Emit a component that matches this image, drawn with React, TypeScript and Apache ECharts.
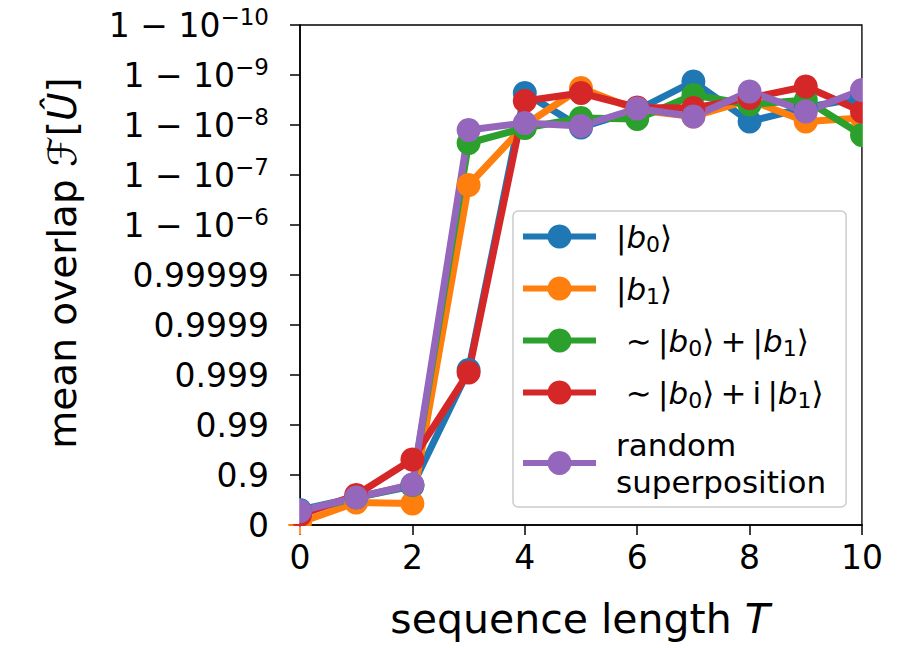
import React, { useEffect, useRef } from "react";
import * as echarts from "echarts";

const T = [0, 1, 2, 3, 4, 5, 6, 7, 8, 9, 10];
// values on the transformed axis: -log10(1 - F)
const b0 = [0.3, 0.55, 0.78, 3.1, 8.64, 7.95, 8.3, 8.87, 8.07, 8.35, 8.55];
const b1 = [0.05, 0.45, 0.43, 6.8, 8.0, 8.74, 8.3, 8.17, 8.5, 8.07, 8.14];
const plus = [0.25, 0.55, 0.8, 7.64, 7.94, 8.14, 8.12, 8.6, 8.41, 8.5, 7.8];
const plusI = [0.2, 0.6, 1.31, 3.05, 8.48, 8.64, 8.35, 8.34, 8.54, 8.77, 8.27];
const rnd = [0.28, 0.55, 0.81, 7.9, 8.04, 7.98, 8.33, 8.17, 8.67, 8.27, 8.7];

const seriesNames = ["b0", "b1", "plus", "plusI", "random"];
const legendLabels = [
  "|{i|b}{sub|0}⟩",
  "|{i|b}{sub|1}⟩",
  " ∼\u2009|{i|b}{sub|0}⟩\u2009+\u2009|{i|b}{sub|1}⟩",
  " ∼\u2009|{i|b}{sub|0}⟩\u2009+\u2009i\u2009|{i|b}{sub|1}⟩",
  "random\nsuperposition",
];
const colors = ["#1f77b4", "#ff7f0e", "#2ca02c", "#d62728", "#9467bd"];
const yTickLabels = [
  "0",
  "0.9",
  "0.99",
  "0.999",
  "0.9999",
  "0.99999",
  "1 − 10{sup|−6}",
  "1 − 10{sup|−7}",
  "1 − 10{sup|−8}",
  "1 − 10{sup|−9}",
  "1 − 10{sup|−10}",
];
const xTicks = [0, 2, 4, 6, 8, 10];

const FONT = "DejaVu Sans";

export default function App() {
  const ref = useRef<HTMLDivElement>(null);
  useEffect(() => {
    if (!ref.current) return;
    const chart = echarts.init(ref.current, null, { renderer: "svg" });
    const allData = [b0, b1, plus, plusI, rnd];
    const series = allData.map((d, k) => ({
      name: seriesNames[k],
      type: "line",
      data: T.map((t, i) => [t, d[i]]),
      symbol: "circle",
      symbolSize: 24,
      showSymbol: true,
      lineStyle: { width: 7, color: colors[k] },
      itemStyle: { color: colors[k] },
      color: colors[k],
      emphasis: { disabled: true },
      clip: true,
    }));
    chart.setOption({
      animation: false,
      backgroundColor: "#ffffff",
      grid: {
        left: 300,
        right: 35,
        top: 25,
        bottom: 123,
        show: true,
        borderColor: "#000",
        borderWidth: 1.5,
        backgroundColor: "transparent",
      },
      xAxis: {
        type: "value",
        min: 0,
        max: 10,
        interval: 2,
        splitLine: { show: false },
        axisLine: { show: true, lineStyle: { color: "#000", width: 1.5 } },
        axisTick: { show: true, length: 10, lineStyle: { color: "#000", width: 1.5 } },
        axisLabel: {
          color: "#000",
          fontSize: 33,
          fontFamily: FONT,
          margin: 16,
          formatter: (v: number) => (xTicks.includes(v) ? String(v) : ""),
        },
      },
      yAxis: {
        type: "value",
        min: 0,
        max: 10,
        interval: 1,
        splitLine: { show: false },
        axisLine: { show: true, lineStyle: { color: "#000", width: 1.5 } },
        axisTick: { show: true, length: 10, lineStyle: { color: "#000", width: 1.5 } },
        axisLabel: {
          color: "#000",
          fontSize: 33,
          fontFamily: FONT,
          lineHeight: 40,
          margin: 31,
          formatter: (v: number) => yTickLabels[Math.round(v)] ?? "",
          rich: {
            sup: {
              fontSize: 23,
              fontFamily: FONT,
              color: "#000",
              lineHeight: 22,
              verticalAlign: "top",
            },
          },
        },
      },
      legend: {
        orient: "vertical",
        left: 513,
        top: 211,
        padding: [7, 20, 7, 7],
        itemGap: 15,
        itemWidth: 73,
        itemHeight: 30,
        backgroundColor: "#ffffff",
        borderColor: "#cccccc",
        borderWidth: 1.5,
        borderRadius: 5,
        data: seriesNames,
        lineStyle: { width: 6 },
        formatter: (name: string) => legendLabels[seriesNames.indexOf(name)],
        textStyle: {
          color: "#000",
          fontSize: 31,
          fontFamily: FONT,
          lineHeight: 37,
          padding: [0, 0, 0, 15],
          rich: {
            i: { fontStyle: "italic", fontSize: 31, fontFamily: FONT, color: "#000", lineHeight: 37 },
            sub: { fontSize: 22, fontFamily: FONT, color: "#000", lineHeight: 18, verticalAlign: "bottom" },
          },
        },
      },
      graphic: [
        // clip markers that overhang the plot area
        { type: "rect", z: 100, shape: { x: 862.8, y: 0, width: 40, height: 524 }, style: { fill: "#fff" } },
        { type: "rect", z: 100, shape: { x: 283, y: 480, width: 16.2, height: 44 }, style: { fill: "#fff" } },
        { type: "rect", z: 100, shape: { x: 283, y: 526, width: 16.2, height: 12 }, style: { fill: "#fff" } },
        { type: "rect", z: 100, shape: { x: 300.8, y: 526, width: 30, height: 8.5 }, style: { fill: "#fff" } },
        {
          type: "text",
          z: 100,
          x: 580,
          y: 619,
          style: {
            text: "sequence length {i|T}",
            fontSize: 41,
            fontFamily: FONT,
            fill: "#000",
            align: "center",
            verticalAlign: "middle",
            textAlign: "center",
            textVerticalAlign: "middle",
            rich: { i: { fontStyle: "italic", fontSize: 41, fontFamily: FONT, fill: "#000" } },
          },
        },
        {
          type: "text",
          z: 100,
          x: 62,
          y: 263,
          rotation: Math.PI / 2,
          style: {
            text: "mean overlap {i|ℱ}[{i|Û}]",
            fontSize: 39,
            fontFamily: FONT,
            fill: "#000",
            align: "center",
            verticalAlign: "middle",
            textAlign: "center",
            textVerticalAlign: "middle",
            rich: { i: { fontStyle: "italic", fontSize: 39, fontFamily: FONT, fill: "#000" } },
          },
        },
      ],
      series,
    });
    return () => chart.dispose();
  }, []);
  return <div ref={ref} style={{ width: 897, height: 648, position: "absolute", left: 0, top: 0 }} />;
}
